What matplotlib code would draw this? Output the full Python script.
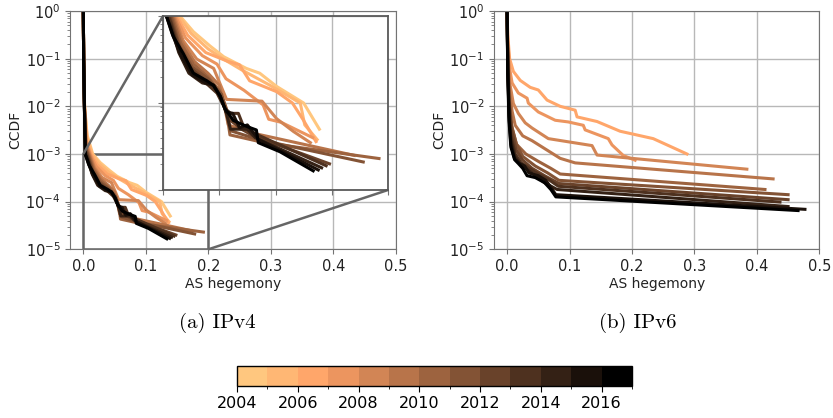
import numpy as np
import matplotlib
matplotlib.use('Agg')
import matplotlib.pyplot as plt
from matplotlib.colors import ListedColormap, BoundaryNorm
from matplotlib.cm import ScalarMappable
from mpl_toolkits.axes_grid1.inset_locator import mark_inset

years = list(range(2004, 2017))
v6_years = list(range(2006, 2017))
cbar_ticks = [2004, 2006, 2008, 2010, 2012, 2014, 2016]

# ---------------- IPv4: AS hegemony (x) vs CCDF (y) per year ----------------
v4_x = {
    2004: [0, 0.0005, 0.002, 0.006, 0.015, 0.027, 0.042, 0.054, 0.074, 0.086, 0.101, 0.125, 0.139],
    2005: [0, 0.0005, 0.002, 0.006, 0.014, 0.025, 0.040, 0.052, 0.070, 0.095, 0.122, 0.126, 0.137],
    2006: [0, 0.0005, 0.002, 0.005, 0.012, 0.022, 0.038, 0.058, 0.068, 0.077, 0.101, 0.115, 0.125, 0.136],
    2007: [0, 0.0005, 0.002, 0.005, 0.011, 0.020, 0.035, 0.048, 0.056, 0.072, 0.089, 0.094, 0.105, 0.133],
    2008: [0, 0.0005, 0.002, 0.005, 0.010, 0.018, 0.030, 0.045, 0.0565, 0.088, 0.101, 0.116, 0.131],
    2009: [0, 0.0005, 0.002, 0.004, 0.009, 0.017, 0.028, 0.040, 0.050, 0.054, 0.058, 0.080, 0.170],
    2010: [0, 0.0005, 0.002, 0.004, 0.008, 0.016, 0.027, 0.040, 0.050, 0.056, 0.0595, 0.090, 0.192],
    2011: [0, 0.0005, 0.002, 0.004, 0.007, 0.015, 0.026, 0.040, 0.052, 0.057, 0.060, 0.085, 0.178],
    2012: [0, 0.0005, 0.002, 0.0035, 0.007, 0.015, 0.025, 0.038, 0.050, 0.055, 0.060, 0.070, 0.080, 0.148],
    2013: [0, 0.0005, 0.002, 0.0035, 0.007, 0.014, 0.024, 0.036, 0.048, 0.055, 0.060, 0.067, 0.072, 0.086, 0.145],
    2014: [0, 0.0005, 0.002, 0.003, 0.007, 0.014, 0.023, 0.035, 0.045, 0.051, 0.056, 0.060, 0.075, 0.082, 0.141],
    2015: [0, 0.0005, 0.002, 0.003, 0.008, 0.016, 0.026, 0.038, 0.045, 0.051, 0.056, 0.062, 0.068, 0.075, 0.085, 0.138],
    2016: [0, 0.0005, 0.002, 0.0033, 0.0092, 0.018, 0.027, 0.039, 0.0447, 0.0506, 0.055, 0.0625, 0.074, 0.083, 0.0847, 0.104, 0.1335],
}
v4_y = {
    2004: [1, 1e-1, 1e-2, 2.5e-3, 1e-3, 6.6e-4, 4.5e-4, 3.4e-4, 2.5e-4, 2.2e-4, 1.55e-4, 1.0e-4, 5.0e-5],
    2005: [1, 1e-1, 1e-2, 2.2e-3, 1e-3, 6.3e-4, 4.2e-4, 3.3e-4, 2.4e-4, 1.6e-4, 1.0e-4, 5.6e-5, 3.8e-5],
    2006: [1, 1e-1, 8.9e-3, 2.0e-3, 1e-3, 6.0e-4, 3.8e-4, 3.0e-4, 2.75e-4, 1.8e-4, 1.35e-4, 1.0e-4, 6.3e-5, 3.6e-5],
    2007: [1, 1e-1, 7.9e-3, 1.8e-3, 1e-3, 5.6e-4, 3.5e-4, 2.8e-4, 1.9e-4, 1.4e-4, 9.5e-5, 6.5e-5, 6.0e-5, 4.0e-5],
    2008: [1, 1e-1, 7.9e-3, 1.6e-3, 1e-3, 5.2e-4, 3.2e-4, 2.5e-4, 1.1e-4, 1.05e-4, 6.6e-5, 4.7e-5, 3.5e-5],
    2009: [1, 1e-1, 7.9e-3, 1.6e-3, 1e-3, 5.0e-4, 3.0e-4, 2.2e-4, 1.6e-4, 1.0e-4, 5.6e-5, 4.5e-5, 2.5e-5],
    2010: [1, 1e-1, 7.1e-3, 1.4e-3, 1e-3, 4.8e-4, 2.8e-4, 2.0e-4, 1.4e-4, 8.9e-5, 4.3e-5, 3.5e-5, 2.3e-5],
    2011: [1, 1e-1, 7.1e-3, 1.26e-3, 1e-3, 4.5e-4, 2.6e-4, 1.9e-4, 1.26e-4, 7.9e-5, 4.8e-5, 3.8e-5, 2.1e-5],
    2012: [1, 1e-1, 6.3e-3, 1.26e-3, 8.9e-4, 4.2e-4, 2.5e-4, 1.8e-4, 1.26e-4, 8.7e-5, 6.3e-5, 5.0e-5, 4.2e-5, 2.0e-5],
    2013: [1, 1e-1, 6.3e-3, 1.1e-3, 8.3e-4, 4.0e-4, 2.4e-4, 1.8e-4, 1.3e-4, 8.7e-5, 7.6e-5, 7.6e-5, 5.2e-5, 4.2e-5, 1.9e-5],
    2014: [1, 1e-1, 6.3e-3, 1e-3, 7.6e-4, 3.8e-4, 2.2e-4, 1.7e-4, 1.6e-4, 1.2e-4, 7.9e-5, 5.0e-5, 5.0e-5, 4.0e-5, 1.8e-5],
    2015: [1, 1e-1, 6.3e-3, 1e-3, 6.3e-4, 3.5e-4, 2.1e-4, 1.7e-4, 1.6e-4, 1.2e-4, 7.9e-5, 7.6e-5, 5.2e-5, 5.6e-5, 3.8e-5, 1.7e-5],
    2016: [1, 1e-1, 6.3e-3, 9.8e-4, 5.8e-4, 3.7e-4, 2.2e-4, 1.8e-4, 1.6e-4, 1.2e-4, 8.7e-5, 6.3e-5, 5.4e-5, 4.9e-5, 3.5e-5, 2.75e-5, 1.66e-5],
}

# ---------------- IPv6 ----------------
v6_x = {
    2006: [0, 0.001, 0.004, 0.010, 0.021, 0.037, 0.050, 0.064, 0.085, 0.109, 0.112, 0.144, 0.181, 0.234, 0.288],
    2007: [0, 0.001, 0.004, 0.008, 0.018, 0.032, 0.034, 0.050, 0.077, 0.098, 0.122, 0.125, 0.162, 0.168, 0.186, 0.205],
    2008: [0, 0.001, 0.004, 0.010, 0.018, 0.029, 0.040, 0.066, 0.098, 0.136, 0.144, 0.384],
    2009: [0, 0.001, 0.004, 0.008, 0.013, 0.025, 0.040, 0.060, 0.085, 0.109, 0.426],
    2010: [0, 0.001, 0.004, 0.008, 0.015, 0.030, 0.050, 0.070, 0.085, 0.413],
    2011: [0, 0.001, 0.003, 0.007, 0.015, 0.025, 0.045, 0.065, 0.083, 0.450],
    2012: [0, 0.001, 0.003, 0.007, 0.014, 0.024, 0.040, 0.060, 0.083, 0.450],
    2013: [0, 0.001, 0.003, 0.006, 0.013, 0.022, 0.035, 0.050, 0.065, 0.082, 0.437],
    2014: [0, 0.001, 0.003, 0.006, 0.012, 0.020, 0.030, 0.045, 0.060, 0.080, 0.450],
    2015: [0, 0.001, 0.003, 0.006, 0.012, 0.020, 0.028, 0.035, 0.050, 0.062, 0.070, 0.078, 0.477],
    2016: [0, 0.001, 0.003, 0.006, 0.012, 0.018, 0.025, 0.032, 0.045, 0.060, 0.070, 0.078, 0.466],
}
v6_y = {
    2006: [1, 0.32, 0.1, 0.054, 0.035, 0.025, 0.022, 0.0135, 0.01, 0.0083, 0.006, 0.0048, 0.003, 0.0021, 0.001],
    2007: [1, 0.25, 0.063, 0.031, 0.019, 0.0148, 0.0117, 0.0076, 0.0051, 0.0047, 0.004, 0.0032, 0.0021, 0.00155, 0.00093, 0.00074],
    2008: [1, 0.16, 0.032, 0.0115, 0.0071, 0.0045, 0.0035, 0.0021, 0.0018, 0.0015, 0.00095, 0.00048],
    2009: [1, 0.126, 0.02, 0.0079, 0.004, 0.0024, 0.0019, 0.0013, 0.00081, 0.00065, 0.0003],
    2010: [1, 0.1, 0.01, 0.0035, 0.0016, 0.001, 0.0007, 0.0005, 0.00038, 0.00018],
    2011: [1, 0.1, 0.016, 0.004, 0.0016, 0.00089, 0.00056, 0.0004, 0.00028, 0.00014],
    2012: [1, 0.079, 0.0126, 0.0032, 0.00126, 0.00076, 0.0005, 0.00035, 0.00024, 0.00011],
    2013: [1, 0.079, 0.01, 0.0025, 0.001, 0.00066, 0.0005, 0.00038, 0.0003, 0.00021, 0.000098],
    2014: [1, 0.063, 0.0079, 0.002, 0.00089, 0.00063, 0.0005, 0.00035, 0.00025, 0.00018, 0.000079],
    2015: [1, 0.063, 0.0063, 0.0016, 0.00079, 0.00063, 0.00056, 0.0004, 0.00035, 0.00028, 0.0002, 0.00014, 0.000069],
    2016: [1, 0.05, 0.005, 0.0014, 0.00076, 0.00063, 0.0005, 0.00035, 0.00032, 0.00025, 0.00018, 0.000126, 0.000065],
}

cmap = ListedColormap(plt.get_cmap('copper_r')(np.linspace(0, 1, len(years))))
norm = BoundaryNorm(years + [years[-1] + 1], cmap.N)

def color_of(y):
    return cmap(norm(y))

W, H = 833, 418
fig = plt.figure(figsize=(W / 100, H / 100), dpi=100)

top_px, bot_px = 11, 249.3
ax1 = fig.add_axes([70.2 / W, 1 - bot_px / H, (396 - 70.2) / W, (bot_px - top_px) / H])
ax2 = fig.add_axes([494 / W, 1 - bot_px / H, (819.3 - 494) / W, (bot_px - top_px) / H])

spine_col = '0.45'
grid_col = '0.72'

def style(ax):
    ax.set_yscale('log')
    ax.set_ylim(1e-5, 1)
    ax.set_xlim(-0.021, 0.5)
    ax.set_xticks([0, 0.1, 0.2, 0.3, 0.4, 0.5])
    ax.grid(True, which='major', color=grid_col, lw=1.0)
    ax.set_axisbelow(True)
    for s in ax.spines.values():
        s.set_color(spine_col)
    ax.tick_params(which='both', color=spine_col, labelsize=10.5, labelcolor='#222222')
    ax.set_xlabel('AS hegemony', fontsize=10, color='#222222', labelpad=2)
    ax.set_ylabel('CCDF', fontsize=10, color='#222222', labelpad=2)

for ax in (ax1, ax2):
    style(ax)

for yr in years:
    ax1.plot(v4_x[yr], v4_y[yr], color=color_of(yr), lw=2.2, solid_joinstyle='round')
for yr in v6_years:
    ax2.plot(v6_x[yr], v6_y[yr], color=color_of(yr), lw=2.2, solid_joinstyle='round')

# inset zoom
axins = fig.add_axes([163 / W, 1 - 190 / H, 225 / W, 174 / H])
for yr in years:
    axins.plot(v4_x[yr], v4_y[yr], color=color_of(yr), lw=2.2, solid_joinstyle='round')
axins.set_yscale('log')
axins.set_xlim(0, 0.2)
axins.set_ylim(1e-5, 1e-3)
axins.set_xticks([0, 0.05, 0.1, 0.15, 0.2])
axins.grid(True, which='major', color=grid_col, lw=1.0)
axins.set_axisbelow(True)
axins.tick_params(which='both', labelleft=False, labelbottom=False, color=spine_col)
for s in axins.spines.values():
    s.set_color('0.35')
    s.set_linewidth(1.3)
mark_inset(ax1, axins, loc1=2, loc2=4, fc='none', ec='0.4', lw=1.8)

# sub captions
fig.text(217 / W, 1 - 323 / H, '(a) IPv4', ha='center', va='center',
         family='cmr10', fontsize=15)
fig.text(638 / W, 1 - 323 / H, '(b) IPv6', ha='center', va='center',
         family='cmr10', fontsize=15)

# colorbar
cax = fig.add_axes([237 / W, 1 - 386 / H, 395 / W, 20.3 / H])
sm = ScalarMappable(norm=norm, cmap=cmap)
cb = fig.colorbar(sm, cax=cax, orientation='horizontal', ticks=cbar_ticks)
cb.ax.tick_params(labelsize=11.5, length=4)
cb.outline.set_linewidth(1.0)

fig.savefig('out.png', dpi=100)
